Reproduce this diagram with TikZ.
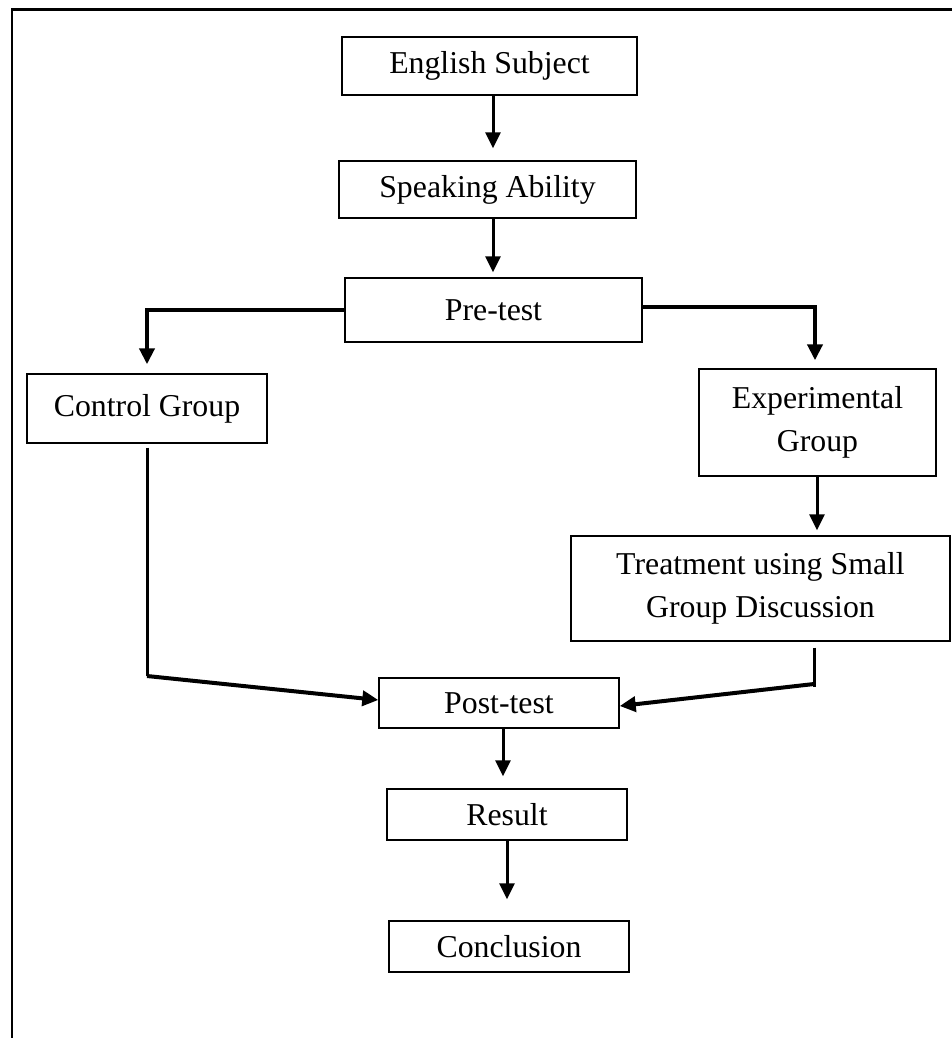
\documentclass[tikz,border=0pt]{standalone}
\usepackage{fontspec}
\setmainfont{Liberation Serif}
\usetikzlibrary{arrows.meta}
\begin{document}
\begin{tikzpicture}[x=0.5pt,y=-0.5pt,
  box/.style={draw=black, line width=0.7pt, inner sep=0pt, align=center,
    font=\fontsize{15.9}{21.5}\selectfont},
  arr/.style={line width=1.5pt, -{Triangle[length=8pt,width=7.5pt]}},
  thickarr/.style={arr, line width=2pt},
  plainline/.style={line width=1.5pt},
  frame/.style={line width=1.2pt}]
\useasboundingbox (0,0) rectangle (952,1038);
% open frame (top and left)
\draw[frame] (952,9.5) -- (11.8,9.5) -- (11.8,1038);
% boxes
\node[box, minimum width=147.5pt, minimum height=29pt]   (eng)  at (489.5,66)   {English Subject};
\node[box, minimum width=148.5pt, minimum height=28.5pt] (spk)  at (487.5,189.5) {Speaking Ability};
\node[box, minimum width=148.5pt, minimum height=32pt]   (pre)  at (493.5,310)  {Pre-test};
\node[box, minimum width=120pt,   minimum height=34.5pt] (ctl)  at (147,408.5)  {Control Group};
\node[box, minimum width=118.5pt, minimum height=53.5pt] (exp)  at (817.5,422.5) {Experimental\\Group};
\node[box, minimum width=189.5pt, minimum height=52.5pt] (trt)  at (760.5,588.5) {Treatment using Small\\Group Discussion};
\node[box, minimum width=120pt,   minimum height=25pt]   (post) at (499,703)    {Post-test};
\node[box, minimum width=120pt,   minimum height=25.5pt] (res)  at (507,814.5)  {Result};
\node[box, minimum width=120pt,   minimum height=25.5pt] (con)  at (509,946.5)  {Conclusion};
% alignment coordinates
\coordinate (a1) at (493,0);
\coordinate (a2) at (815,307);
\coordinate (a3) at (817,0);
\coordinate (a4) at (503,0);
\coordinate (a5) at (507,0);
\coordinate (cb) at (147,676);
\coordinate (tb) at (814,684);
% connectors
\draw[arr, shorten >=6pt]   (eng.south -| a1) -- (spk.north -| a1);
\draw[arr, shorten >=2.5pt] (spk.south -| a1) -- (pre.north -| a1);
\draw[thickarr, shorten >=4.5pt] (pre.west) -| (ctl.north);
\draw[thickarr, shorten >=4pt]   (pre.east |- a2) -| (exp.north -| a2);
\draw[arr, shorten >=2.5pt] (exp.south -| a3) -- (trt.north -| a3);
\draw[plainline, shorten <=2pt] (ctl.south) -- (cb);
\draw[thickarr] (cb) -- ([yshift=1.5pt]post.west);
\draw[plainline, shorten <=3pt] (trt.south -| tb) -- ([yshift=-1.5pt]tb);
\draw[thickarr] (tb) -- ([yshift=-1.5pt]post.east);
\draw[arr, shorten >=6pt]    (post.south -| a4) -- (res.north -| a4);
\draw[arr, shorten >=10.5pt] (res.south -| a5) -- (con.north -| a5);
\end{tikzpicture}
\end{document}
